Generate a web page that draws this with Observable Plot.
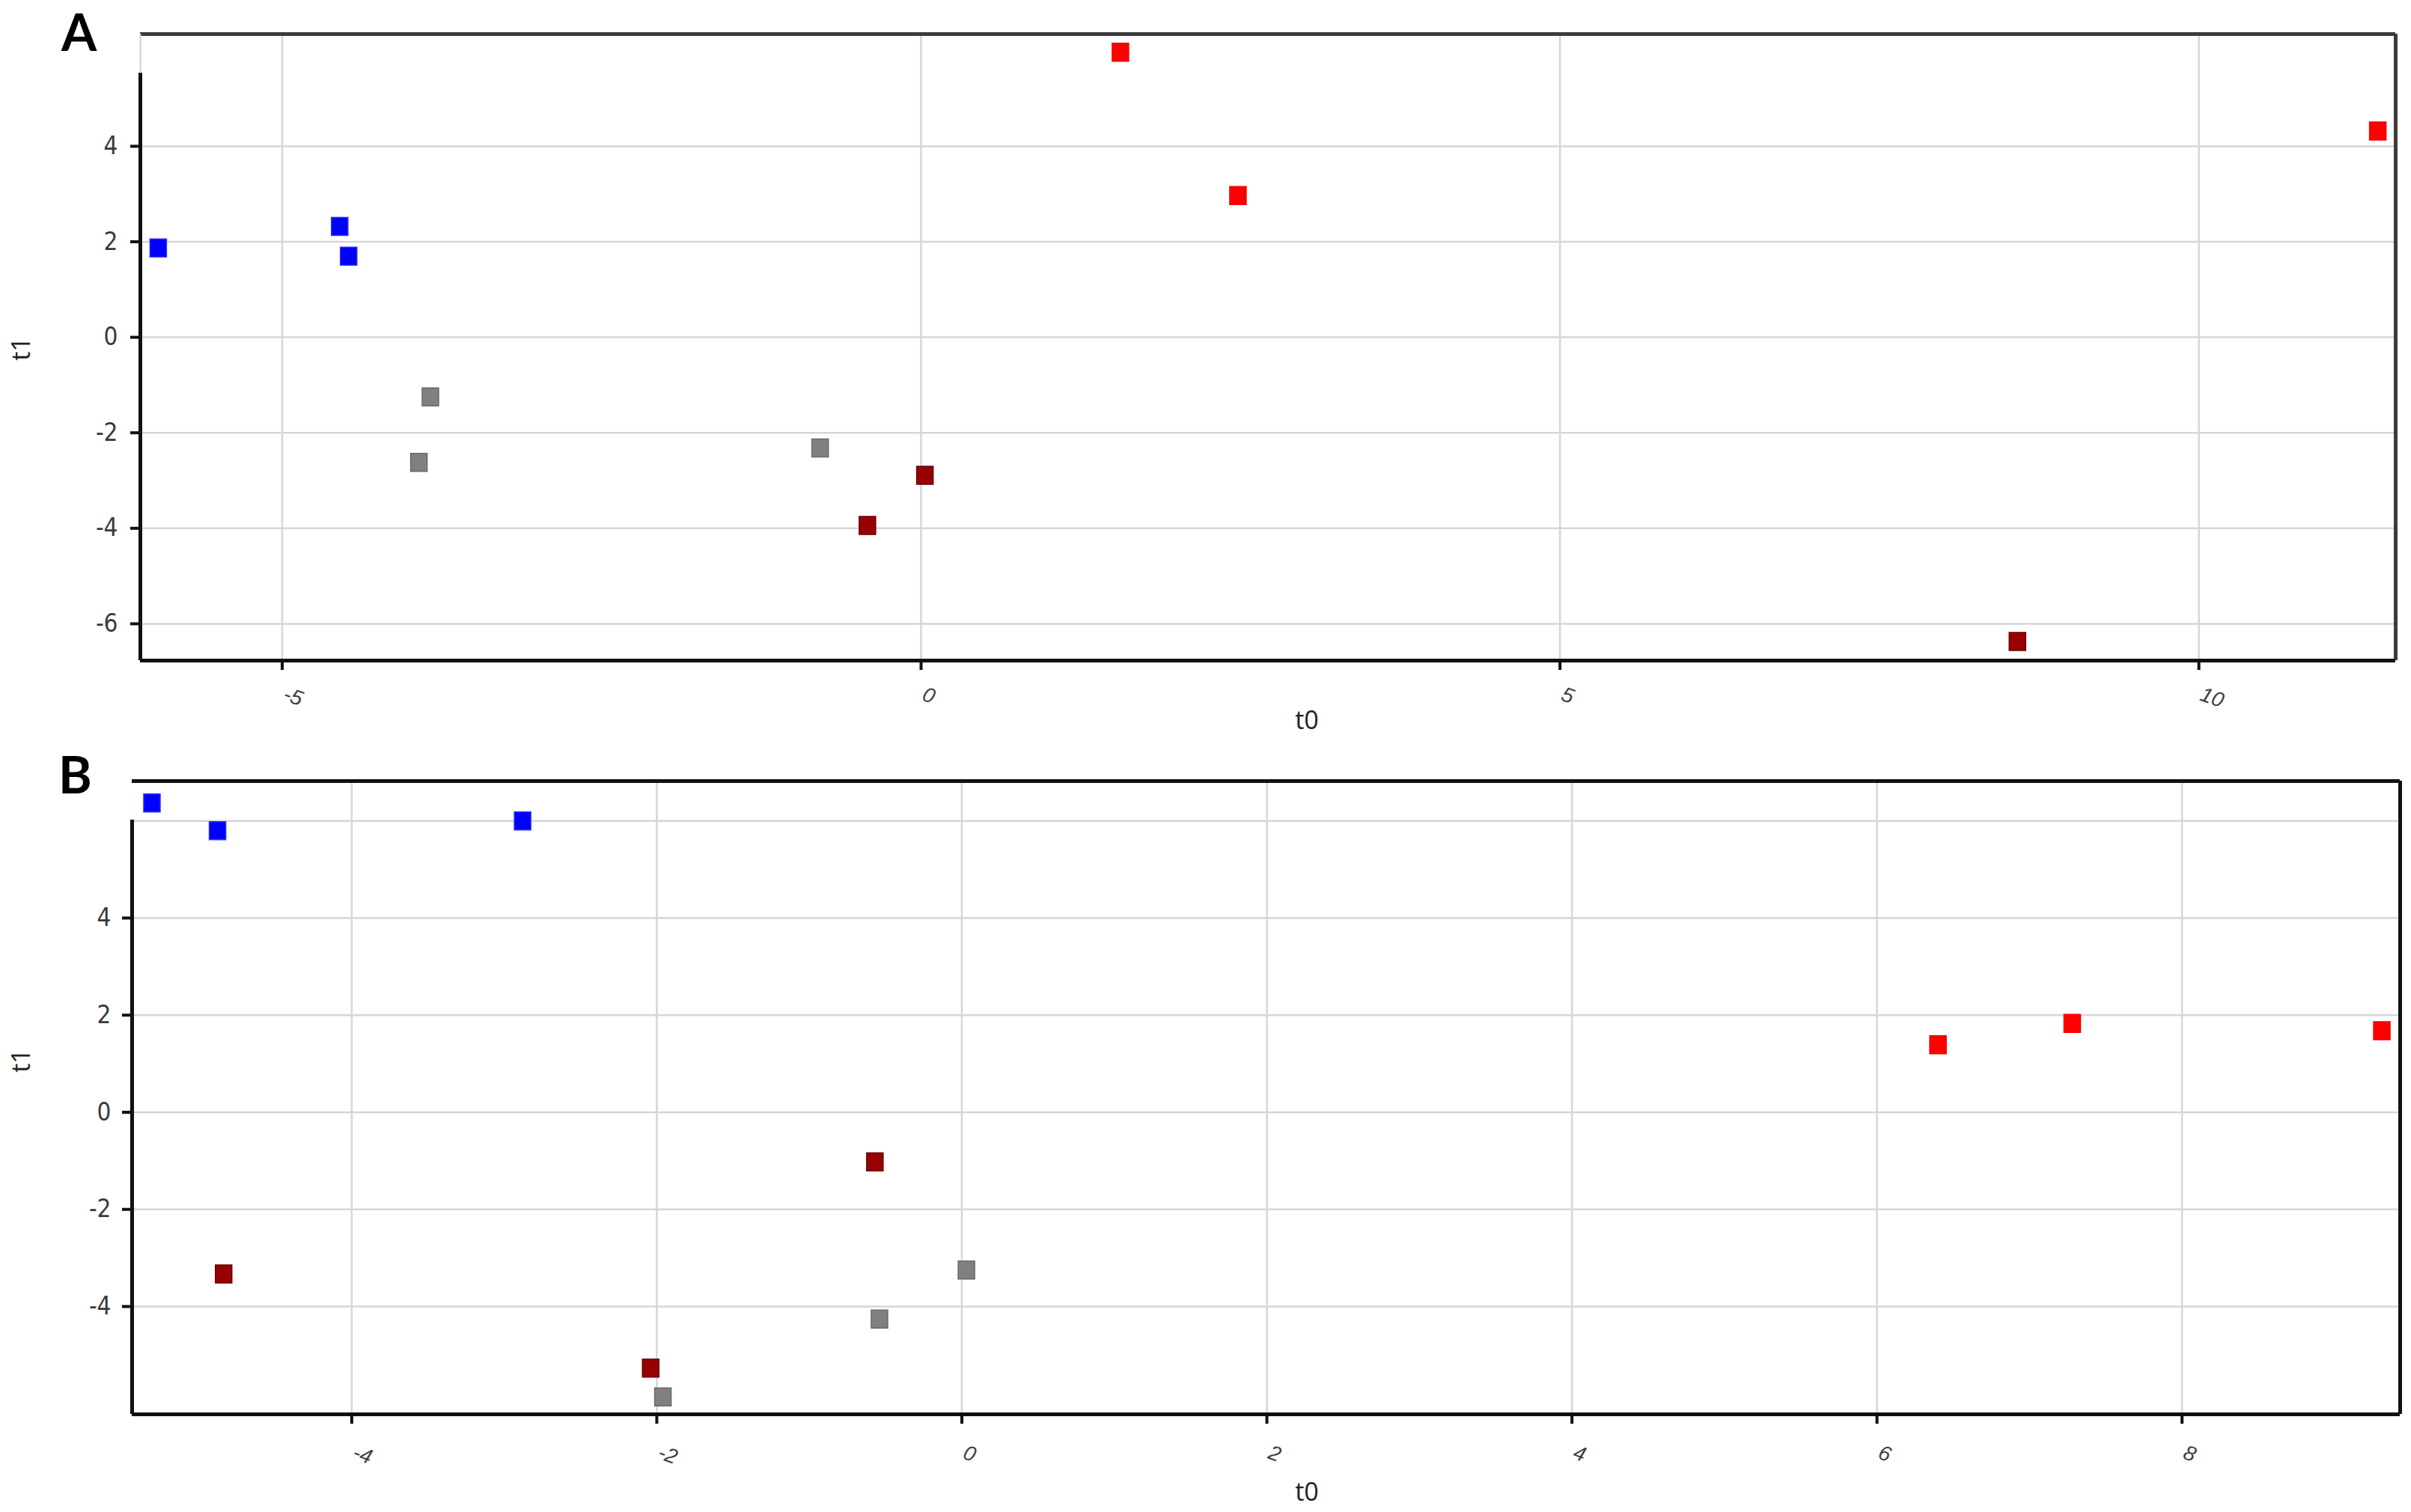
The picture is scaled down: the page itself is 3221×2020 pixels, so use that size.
<!DOCTYPE html>
<html>
<head>
<meta charset="utf-8">
<script src="https://cdn.jsdelivr.net/npm/d3@7"></script>
<script src="https://cdn.jsdelivr.net/npm/@observablehq/plot@0.6"></script>
<style>
html, body { margin: 0; padding: 0; background: #fff; }
#wrap { position: relative; width: 3221px; height: 2020px; overflow: hidden; background: #fff; }
#wrap > svg { position: absolute; left: 0; }
</style>
</head>
<body>
<div id="wrap"></div>
<script>
// ---------- data ----------
const groupNames   = ["blue", "red", "gray", "darkred"];
const groupFills   = ["#0000ff", "#ff0000", "#808080", "#990000"];
const groupStrokes = ["#2a2aff", "#f00000", "#6a6a6a", "#660000"];

// Panel A
const aGroup = ["blue", "blue", "blue", "red", "red", "red", "gray", "gray", "gray", "darkred", "darkred", "darkred"];
const aT0 = [-5.97, -4.55, -4.48, 1.56, 2.48, 11.40, -3.84, -3.93, -0.79, -0.42, 0.03, 8.58];
const aT1 = [1.87, 2.32, 1.70, 5.97, 2.97, 4.32, -1.25, -2.62, -2.32, -3.94, -2.89, -6.37];

// Panel B
const bGroup = ["blue", "blue", "blue", "red", "red", "red", "darkred", "darkred", "darkred", "gray", "gray", "gray"];
const bT0 = [-5.31, -4.88, -2.88, 6.40, 7.28, 9.31, -4.84, -2.04, -0.57, 0.03, -0.54, -1.96];
const bT1 = [6.37, 5.80, 6.00, 1.39, 1.83, 1.68, -3.33, -5.27, -1.02, -3.25, -4.26, -5.86];

// Ticks
const aXTicks = [-5, 0, 5, 10];
const aYTicks = [4, 2, 0, -2, -4, -6];
const bXTicks = [-4, -2, 0, 2, 4, 6, 8];
const bYTicks = [4, 2, 0, -2, -4];
const bYGrid  = [6, 4, 2, 0, -2, -4];

// Axis extents
const aXDomain = [-6.11, 11.54], aYDomain = [-6.77, 6.35], aAxisTop = 5.53;
const bXDomain = [-5.44, 9.43],  bYDomain = [-6.22, 6.82], bAxisTop = 6.02;

// ---------- helpers ----------
const rowsA = aT0.map((v, i) => ({t0: v, t1: aT1[i], g: aGroup[i]}));
const rowsB = bT0.map((v, i) => ({t0: v, t1: bT1[i], g: bGroup[i]}));

const squareSymbol = {
  draw(ctx) {
    ctx.moveTo(-11, -12); ctx.lineTo(11, -12); ctx.lineTo(11, 12); ctx.lineTo(-11, 12); ctx.closePath();
  }
};

function dots(rows) {
  return groupNames.map((g, i) => Plot.dot(rows.filter(r => r.g === g), {
    x: "t0", y: "t1", symbol: squareSymbol, r: 12,
    fill: groupFills[i], stroke: groupStrokes[i], strokeWidth: 1.5
  }));
}

const gridStyle = {stroke: "#d6d6d6", strokeOpacity: 1, strokeWidth: 2.5};
const yTickText = {fontFamily: "'Liberation Sans Narrow', 'DejaVu Sans Condensed', sans-serif", fontSize: 33, fill: "#3a3a3a"};
const xTickText = {fontFamily: "'Liberation Sans', Arial, sans-serif", fontSize: 28, fontStyle: "italic", fill: "#404040"};

function panel({xDomain, yDomain, axisTop, xTicks, yTicks, yGrid, rows, height, mt, mb, ml, mr, topColor, rightColor, lightLeft, yPad, xDy}) {
  return Plot.plot({
    width: 3221, height,
    marginTop: mt, marginBottom: mb, marginLeft: ml, marginRight: mr,
    x: {domain: xDomain, label: null},
    y: {domain: yDomain, label: null},
    style: {background: "transparent", overflow: "visible"},
    marks: [
      Plot.gridX(xTicks, gridStyle),
      Plot.gridY(yGrid, gridStyle),
      Plot.ruleY([yDomain[1]], {stroke: topColor, strokeWidth: 5}),
      Plot.ruleX([xDomain[1]], {stroke: rightColor, strokeWidth: 5}),
      Plot.ruleY([yDomain[0]], {stroke: "#111", strokeWidth: 5}),
      lightLeft ? Plot.ruleX([xDomain[0]], {y1: axisTop, y2: yDomain[1], stroke: "#cfcfcf", strokeWidth: 2}) : null,
      Plot.ruleX([xDomain[0]], {y1: yDomain[0], y2: axisTop, stroke: "#111", strokeWidth: 5}),
      Plot.axisY(yTicks, {anchor: "left", tickSize: 13, tickPadding: yPad, strokeWidth: 4, stroke: "#111",
        tickFormat: d => String(d), label: null, ...yTickText}),
      Plot.axisX(xTicks, {anchor: "bottom", tickSize: 13, strokeWidth: 4, stroke: "#111",
        tickFormat: () => "", label: null}),
      Plot.text(xTicks, {x: d => d, frameAnchor: "bottom", text: d => String(d), dy: xDy, dx: 3,
        rotate: 20, textAnchor: "start", lineAnchor: "middle", ...xTickText}),
      ...dots(rows)
    ]
  });
}

const wrap = document.getElementById("wrap");

const svgA = panel({xDomain: aXDomain, yDomain: aYDomain, axisTop: aAxisTop, xTicks: aXTicks, yTicks: aYTicks, yGrid: aYTicks,
  rows: rowsA, height: 1000, mt: 45, mb: 118, ml: 187, mr: 21, topColor: "#3c3c3c", rightColor: "#3c3c3c", lightLeft: true, yPad: 17, xDy: 44});
svgA.style.top = "0px";
wrap.appendChild(svgA);

const svgB = panel({xDomain: bXDomain, yDomain: bYDomain, axisTop: bAxisTop, xTicks: bXTicks, yTicks: bYTicks, yGrid: bYGrid,
  rows: rowsB, height: 1020, mt: 43, mb: 131, ml: 176, mr: 15, topColor: "#111", rightColor: "#111", lightLeft: false, yPad: 15, xDy: 50});
svgB.style.top = "1000px";
wrap.appendChild(svgB);

// ---------- overlay text (panel letters and axis titles) ----------
const ns = "http://www.w3.org/2000/svg";
const ov = document.createElementNS(ns, "svg");
ov.setAttribute("width", 3221); ov.setAttribute("height", 2020);
ov.style.top = "0px"; ov.style.pointerEvents = "none";
function txt(s, attrs) {
  const t = document.createElementNS(ns, "text");
  for (const k in attrs) t.setAttribute(k, attrs[k]);
  t.textContent = s;
  ov.appendChild(t);
}
const letterFont = {"font-family": "Lato, 'Open Sans', sans-serif", "font-weight": "bold", fill: "#000"};
txt("A", {x: 82, y: 68, "font-size": 68, ...letterFont});
txt("B", {x: 78, y: 1060, "font-size": 68, ...letterFont});
const titleFont = {"font-family": "'Open Sans', 'Noto Sans', sans-serif", "font-size": 34, fill: "#222", "text-anchor": "middle"};
txt("t0", {x: 1746, y: 974, ...titleFont});
txt("t0", {x: 1746, y: 2005, ...titleFont});
txt("t1", {transform: "translate(40,466) rotate(-90)", ...titleFont});
txt("t1", {transform: "translate(40,1417) rotate(-90)", ...titleFont});
wrap.appendChild(ov);
</script>
</body>
</html>
